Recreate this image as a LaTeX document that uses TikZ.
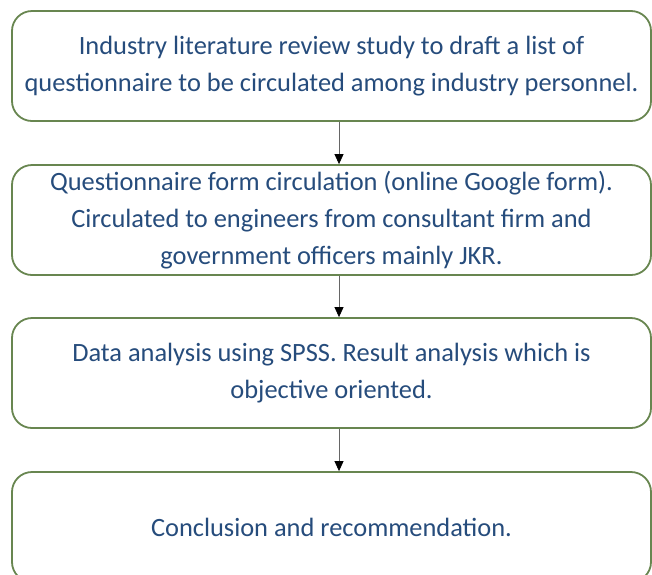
\documentclass[tikz,border=0pt]{standalone}
\usepackage{fontspec}
\setmainfont{Carlito}
\usetikzlibrary{arrows.meta}
\definecolor{boxgreen}{RGB}{104,134,80}
\definecolor{textblue}{RGB}{38,76,124}
\begin{document}
\begin{tikzpicture}[x=1pt,y=1pt,
    stage/.style={draw=boxgreen, line width=1.8pt, rounded corners=20pt, fill=white,
        minimum width=639pt, minimum height=110pt, inner sep=0pt,
        text=textblue, align=center, font=\fontsize{26.4}{37}\selectfont},
    flow/.style={draw=black!60, line width=0.8pt, -{Triangle[width=9pt,length=10pt,black]}}]
            \useasboundingbox (0,0) rectangle (652,-574);
            \clip (0,0) rectangle (652,-574);
            \node[stage] (review) at (331.5,-66) {Industry literature review study to draft a list of\\questionnaire to be circulated among industry personnel.};
            \node[stage] (circ) at (331.5,-220) {Questionnaire form circulation (online Google form).\\Circulated to engineers from consultant firm and\\government officers mainly JKR.};
            \node[stage] (spss) at (331.5,-373) {Data analysis using SPSS. Result analysis which is\\objective oriented.};
            \node[stage] (concl) at (331.5,-527) {Conclusion and recommendation.};
            \draw[flow] ([xshift=7.5pt]review.south) -- ([xshift=7.5pt]circ.north);
            \draw[flow] ([xshift=7.5pt]circ.south) -- ([xshift=7.5pt]spss.north);
            \draw[flow] ([xshift=7.5pt]spss.south) -- ([xshift=7.5pt]concl.north);
        \end{tikzpicture}
\end{document}
